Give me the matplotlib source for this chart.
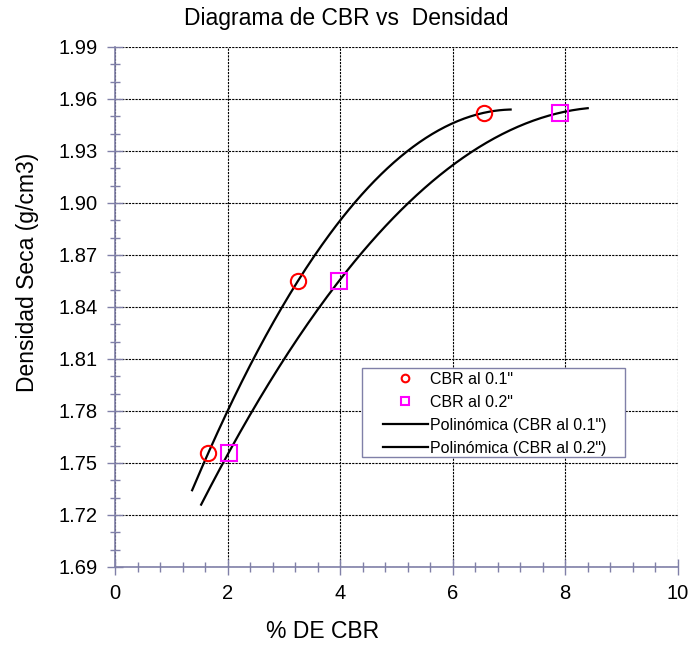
import numpy as np
import matplotlib
matplotlib.use("Agg")
import matplotlib.pyplot as plt
from matplotlib.patches import Rectangle
from matplotlib.ticker import FormatStrFormatter

plt.rcParams['font.family'] = ['Liberation Sans', 'DejaVu Sans']

# ensayo CBR: densidad seca vs % CBR
densidad = [1.756, 1.855, 1.952]
cbr_01 = [1.66, 3.25, 6.55]
cbr_02 = [2.02, 3.98, 7.90]
# rango de las líneas de tendencia
rango_01 = (1.37, 7.03)
rango_02 = (1.53, 8.40)

axis_col = '#8080a8'

fig = plt.figure(figsize=(6.93, 6.48), dpi=100)
ax = fig.add_axes([0.166, 0.125, 0.812, 0.8025])

# tendencias polinómicas de orden 2
p1 = np.polyfit(cbr_01, densidad, 2)
p2 = np.polyfit(cbr_02, densidad, 2)
x1 = np.linspace(*rango_01, 200)
x2 = np.linspace(*rango_02, 200)

ax.plot(cbr_01, densidad, 'o', ms=11, mfc='none', mec='red', mew=1.5,
        label='CBR al 0.1"', zorder=4)
ax.plot(cbr_02, densidad, 's', ms=11, mfc='none', mec='magenta', mew=1.5,
        label='CBR al 0.2"', zorder=4)
ax.plot(x1, np.polyval(p1, x1), color='black', lw=1.6,
        label='Polinómica (CBR al 0.1")', zorder=3)
ax.plot(x2, np.polyval(p2, x2), color='black', lw=1.6,
        label='Polinómica (CBR al 0.2")', zorder=3)

ax.set_xlim(0, 10)
ax.set_ylim(1.69, 1.99)
ax.set_xticks(np.arange(0, 10.1, 2))
ax.set_xticks(np.arange(0, 10.01, 0.4), minor=True)
ax.set_yticks(np.round(np.arange(1.69, 1.9901, 0.03), 2))
ax.set_yticks(np.round(np.arange(1.69, 1.9901, 0.01), 2), minor=True)
ax.yaxis.set_major_formatter(FormatStrFormatter('%.2f'))

ax.grid(True, which='major', color='black', lw=0.8, ls=(0, (2, 1)))
for s in ['top', 'right']:
    ax.spines[s].set_visible(False)
for s in ['left', 'bottom']:
    ax.spines[s].set_color(axis_col)
    ax.spines[s].set_linewidth(1.2)
ax.tick_params(which='major', direction='inout', length=11, width=1,
               color=axis_col, labelsize=14.5, pad=7)
ax.tick_params(which='minor', direction='inout', length=7, width=1,
               color=axis_col)

fig.text(0.5, 0.972, 'Diagrama de CBR vs  Densidad', fontsize=16.5,
         ha='center', va='center')
ax.set_xlabel('% DE CBR', fontsize=16.5, labelpad=12, x=0.368)
ax.set_ylabel('Densidad Seca (g/cm3)', fontsize=16.5, labelpad=14, y=0.567)

# caja de la leyenda, más ancha que el contenido
ax.add_patch(Rectangle((0.439, 0.212), 0.467, 0.171, transform=ax.transAxes,
                       facecolor='white', edgecolor=axis_col, lw=1, zorder=5))
leg = ax.legend(loc='upper left', bbox_to_anchor=(0.476, 0.375),
                fontsize=11.5, markerscale=0.5, frameon=False,
                handlelength=2.8, handletextpad=0.15, borderpad=0,
                labelspacing=0.5, borderaxespad=0)
leg.set_zorder(6)

fig.savefig('out.png', dpi=100)
